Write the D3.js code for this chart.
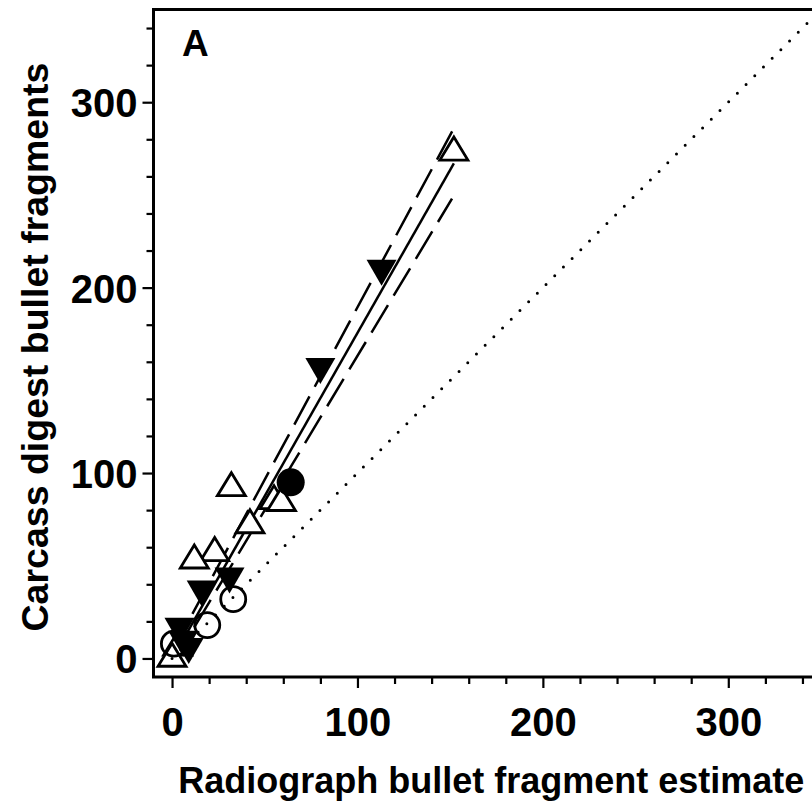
<!DOCTYPE html>
<html>
<head>
<meta charset="utf-8">
<script src="https://cdn.jsdelivr.net/npm/d3@7"></script>
<style>
    body { margin: 0; background: #fff; }
    text { font-family: "Liberation Sans", Arial, sans-serif; font-weight: bold; fill: #000; }
</style>
</head>
<body>
<div id="chart"></div>
<script>
// Radiograph estimate (x) vs carcass digest count (y)
const openTriangles = [
    {x: 152, y: 275}, {x: 32, y: 94}, {x: 55, y: 87}, {x: 59, y: 86},
    {x: 42, y: 74}, {x: 23, y: 59}, {x: 12, y: 55}, {x: 3, y: 8}, {x: 0, y: 2}
];
const filledTriangles = [
    {x: 113, y: 208}, {x: 80, y: 155}, {x: 31, y: 42}, {x: 16, y: 35},
    {x: 4, y: 15}, {x: 6, y: 8}, {x: 9, y: 4}
];
const openCircles = [
    {x: 33, y: 32}, {x: 19, y: 18}, {x: 1, y: 8}
];
const filledCircles = [
    {x: 64, y: 95}
];

// regression fit and its confidence limits (end points), plus the 1:1 line
const fitLine = [{x: 0, y: -0.3}, {x: 152, y: 267}];
const upperLimit = [{x: 0, y: 3.6}, {x: 152, y: 286}];
const lowerLimit = [{x: 0, y: -3.1}, {x: 151, y: 248}];
const oneToOne = [{x: 0, y: 0}, {x: 350, y: 350}];

const domain = [-10, 350];
const majorTicks = [0, 100, 200, 300];
const minorTicks = [20, 40, 60, 80, 120, 140, 160, 180, 220, 240, 260, 280, 320, 340];

const xLabel = 'Radiograph bullet fragment estimate';
const yLabel = 'Carcass digest bullet fragments';
const panelLabel = 'A';

const W = 812, H = 809;
const plot = {left: 153.5, top: 9.5, right: 821, bottom: 677};

const svg = d3.select('#chart')
    .append('svg')
    .attr('width', W)
    .attr('height', H);

const x = d3.scaleLinear().domain(domain).range([plot.left, plot.right]);
const y = d3.scaleLinear().domain(domain).range([plot.bottom, plot.top]);

svg.append('clipPath').attr('id', 'plotClip')
    .append('rect')
    .attr('x', plot.left)
    .attr('y', plot.top)
    .attr('width', plot.right - plot.left)
    .attr('height', plot.bottom - plot.top);

const g = svg.append('g').attr('clip-path', 'url(#plotClip)');

const line = d3.line().x(d => x(d.x)).y(d => y(d.y));

// Fit and confidence lines
g.append('path')
    .datum(fitLine)
    .attr('d', line)
    .attr('fill', 'none')
    .attr('stroke', '#000')
    .attr('stroke-width', 2.5);

[upperLimit, lowerLimit].forEach(lim => {
    g.append('path')
        .datum(lim)
        .attr('d', line)
        .attr('fill', 'none')
        .attr('stroke', '#000')
        .attr('stroke-width', 2.5)
        .style('stroke-dasharray', '32,11');
});

// Markers
const triPath = (cx, cy, w, h, down) => {
    const top = down ? cy + h / 2 : cy - h / 2;
    const base = down ? cy - h / 2 : cy + h / 2;
    return `M${cx},${top}L${cx + w / 2},${base}L${cx - w / 2},${base}Z`;
};

g.selectAll('.otri')
    .data(openTriangles)
    .join('path')
    .attr('class', 'otri')
    .attr('d', d => triPath(x(d.x), y(d.y), 28, 23, false))
    .attr('fill', '#fff')
    .attr('stroke', '#000')
    .attr('stroke-width', 2.8)
    .attr('stroke-linejoin', 'miter');

g.selectAll('.ftri')
    .data(filledTriangles)
    .join('path')
    .attr('class', 'ftri')
    .attr('d', d => triPath(x(d.x), y(d.y), 30, 26, true))
    .attr('fill', '#000');

g.selectAll('.ocirc')
    .data(openCircles)
    .join('circle')
    .attr('class', 'ocirc')
    .attr('cx', d => x(d.x))
    .attr('cy', d => y(d.y))
    .attr('r', 12.5)
    .attr('fill', 'none')
    .attr('stroke', '#000')
    .attr('stroke-width', 2.8);

g.selectAll('.fcirc')
    .data(filledCircles)
    .join('circle')
    .attr('class', 'fcirc')
    .attr('cx', d => x(d.x))
    .attr('cy', d => y(d.y))
    .attr('r', 14)
    .attr('fill', '#000');

// 1:1 dotted line on top
g.append('path')
    .datum(oneToOne)
    .attr('d', line)
    .attr('fill', 'none')
    .attr('stroke', '#000')
    .attr('stroke-width', 3)
    .attr('stroke-linecap', 'round')
    .style('stroke-dasharray', '0,12.3');

// Frame
svg.append('rect')
    .attr('x', plot.left)
    .attr('y', plot.top)
    .attr('width', plot.right - plot.left)
    .attr('height', plot.bottom - plot.top)
    .attr('fill', 'none')
    .attr('stroke', '#000')
    .attr('stroke-width', 3);

// Axes: major ticks labelled, minor ticks shorter (separate groups)
const xMajor = svg.append('g').attr('transform', `translate(0,${plot.bottom})`)
    .call(d3.axisBottom(x).tickValues(majorTicks).tickSize(11).tickPadding(20).tickFormat(d3.format('d')));
svg.append('g').attr('transform', `translate(0,${plot.bottom})`)
    .call(d3.axisBottom(x).tickValues(minorTicks).tickSize(7).tickFormat(''));

const yMajor = svg.append('g').attr('transform', `translate(${plot.left},0)`)
    .call(d3.axisLeft(y).tickValues(majorTicks).tickSize(11).tickPadding(5).tickFormat(d3.format('d')));
svg.append('g').attr('transform', `translate(${plot.left},0)`)
    .call(d3.axisLeft(y).tickValues(minorTicks).tickSize(7).tickFormat(''));

svg.selectAll('.domain').remove();
svg.selectAll('.tick line').attr('stroke', '#000').attr('stroke-width', 2.2);
svg.selectAll('.tick text')
    .style('font-family', '"Liberation Sans", Arial, sans-serif')
    .style('font-weight', 'bold')
    .style('font-size', '40px')
    .attr('fill', '#000');
yMajor.selectAll('.tick text').attr('dy', '0.36em');
xMajor.selectAll('.tick text').attr('dy', '0.71em');

// Axis titles
svg.append('text')
    .attr('x', (plot.left + 829) / 2)
    .attr('y', 793)
    .attr('text-anchor', 'middle')
    .style('font-size', '36px')
    .text(xLabel);

svg.append('text')
    .attr('transform', 'rotate(-90)')
    .attr('x', -347)
    .attr('y', 48)
    .attr('text-anchor', 'middle')
    .style('font-size', '37.5px')
    .text(yLabel);

// Panel label
svg.append('text')
    .attr('x', 182)
    .attr('y', 56)
    .style('font-size', '37px')
    .text(panelLabel);
</script>
</body>
</html>
